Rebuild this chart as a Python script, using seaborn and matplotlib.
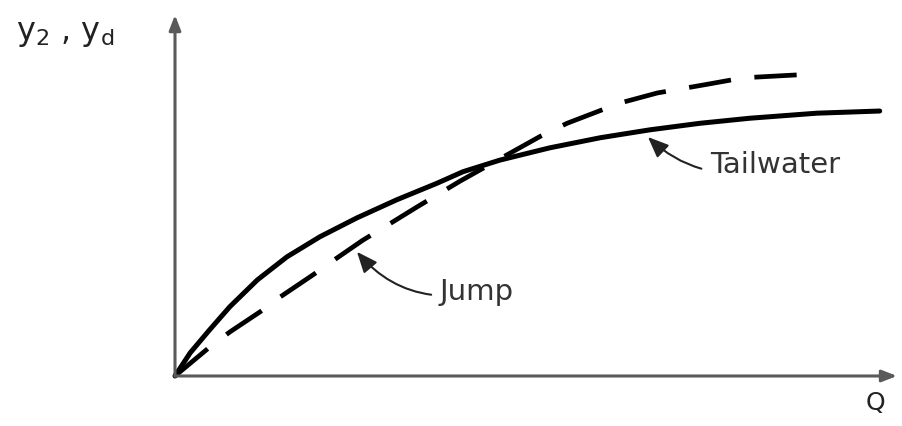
import matplotlib
matplotlib.use("Agg")
import matplotlib.pyplot as plt
import seaborn as sns

# curve values (Q on x, depth on y, arbitrary units)
tail_q = [0.0, 0.21, 0.48, 0.76, 1.14, 1.55, 2.01, 2.52, 3.07, 3.63, 3.99,
          4.50, 5.19, 5.89, 6.58, 7.27, 7.96, 8.89, 9.76]
tail_y = [0.0, 0.32, 0.64, 0.96, 1.33, 1.65, 1.93, 2.19, 2.44, 2.67, 2.83,
          2.99, 3.16, 3.30, 3.41, 3.50, 3.57, 3.64, 3.67]

jump_q = [0.0, 0.48, 0.76, 1.18, 1.45, 1.91, 2.15, 2.60, 2.88, 3.35, 3.95,
          4.54, 5.06, 5.43, 6.16, 6.68, 7.37, 7.87, 8.61]
jump_y = [0.0, 0.40, 0.61, 0.89, 1.09, 1.40, 1.57, 1.88, 2.05, 2.34, 2.70,
          3.03, 3.32, 3.50, 3.78, 3.92, 4.04, 4.13, 4.17]

sns.set_style("white")
plt.rcParams['font.family'] = ['DejaVu Sans']

fig = plt.figure(figsize=(9.03, 4.26), dpi=100)
ax = fig.add_axes([0.1938, 0.1174, 0.7996, 0.8474])

sns.lineplot(x=tail_q, y=tail_y, ax=ax, color='black', linewidth=3.6,
             solid_capstyle='round', solid_joinstyle='round', clip_on=False)
sns.lineplot(x=jump_q, y=jump_y, ax=ax, color='black', linewidth=3.4,
             clip_on=False, linestyle=(0, (9, 5)))

ax.set_xlim(0, 10)
ax.set_ylim(0, 5)
ax.set_xticks([])
ax.set_yticks([])
for s in ax.spines.values():
    s.set_visible(False)

# axes drawn as arrows
ax.annotate('', xy=(1, 0), xytext=(0, 0), xycoords='axes fraction',
            arrowprops=dict(arrowstyle='-|>,head_length=0.9,head_width=0.35',
                            color='#5a5a5a', lw=2.2, shrinkA=0, shrinkB=0))
ax.annotate('', xy=(0, 1), xytext=(0, 0), xycoords='axes fraction',
            arrowprops=dict(arrowstyle='-|>,head_length=0.9,head_width=0.35',
                            color='#5a5a5a', lw=2.2, shrinkA=0, shrinkB=0))

fig.text(0.018, 0.905, r'$\mathregular{y_2}$ , $\mathregular{y_d}$',
         fontsize=23, color='#222222', ha='left', va='baseline')
fig.text(0.969, 0.055, 'Q', fontsize=18, color='#222222', ha='center', va='center')

ax.annotate('Tailwater', xy=(6.55, 3.31), xytext=(7.41, 2.92),
            fontsize=21, color='#333333', ha='left', va='center',
            arrowprops=dict(arrowstyle='-|>,head_length=0.6,head_width=0.25',
                            color='#222222', lw=1.5,
                            connectionstyle='arc3,rad=-0.3', shrinkA=4, shrinkB=0))
ax.annotate('Jump', xy=(2.52, 1.72), xytext=(3.67, 1.16),
            fontsize=21, color='#333333', ha='left', va='center',
            arrowprops=dict(arrowstyle='-|>,head_length=0.6,head_width=0.25',
                            color='#222222', lw=1.5,
                            connectionstyle='arc3,rad=-0.3', shrinkA=4, shrinkB=0))

fig.savefig('out.png', dpi=100)
